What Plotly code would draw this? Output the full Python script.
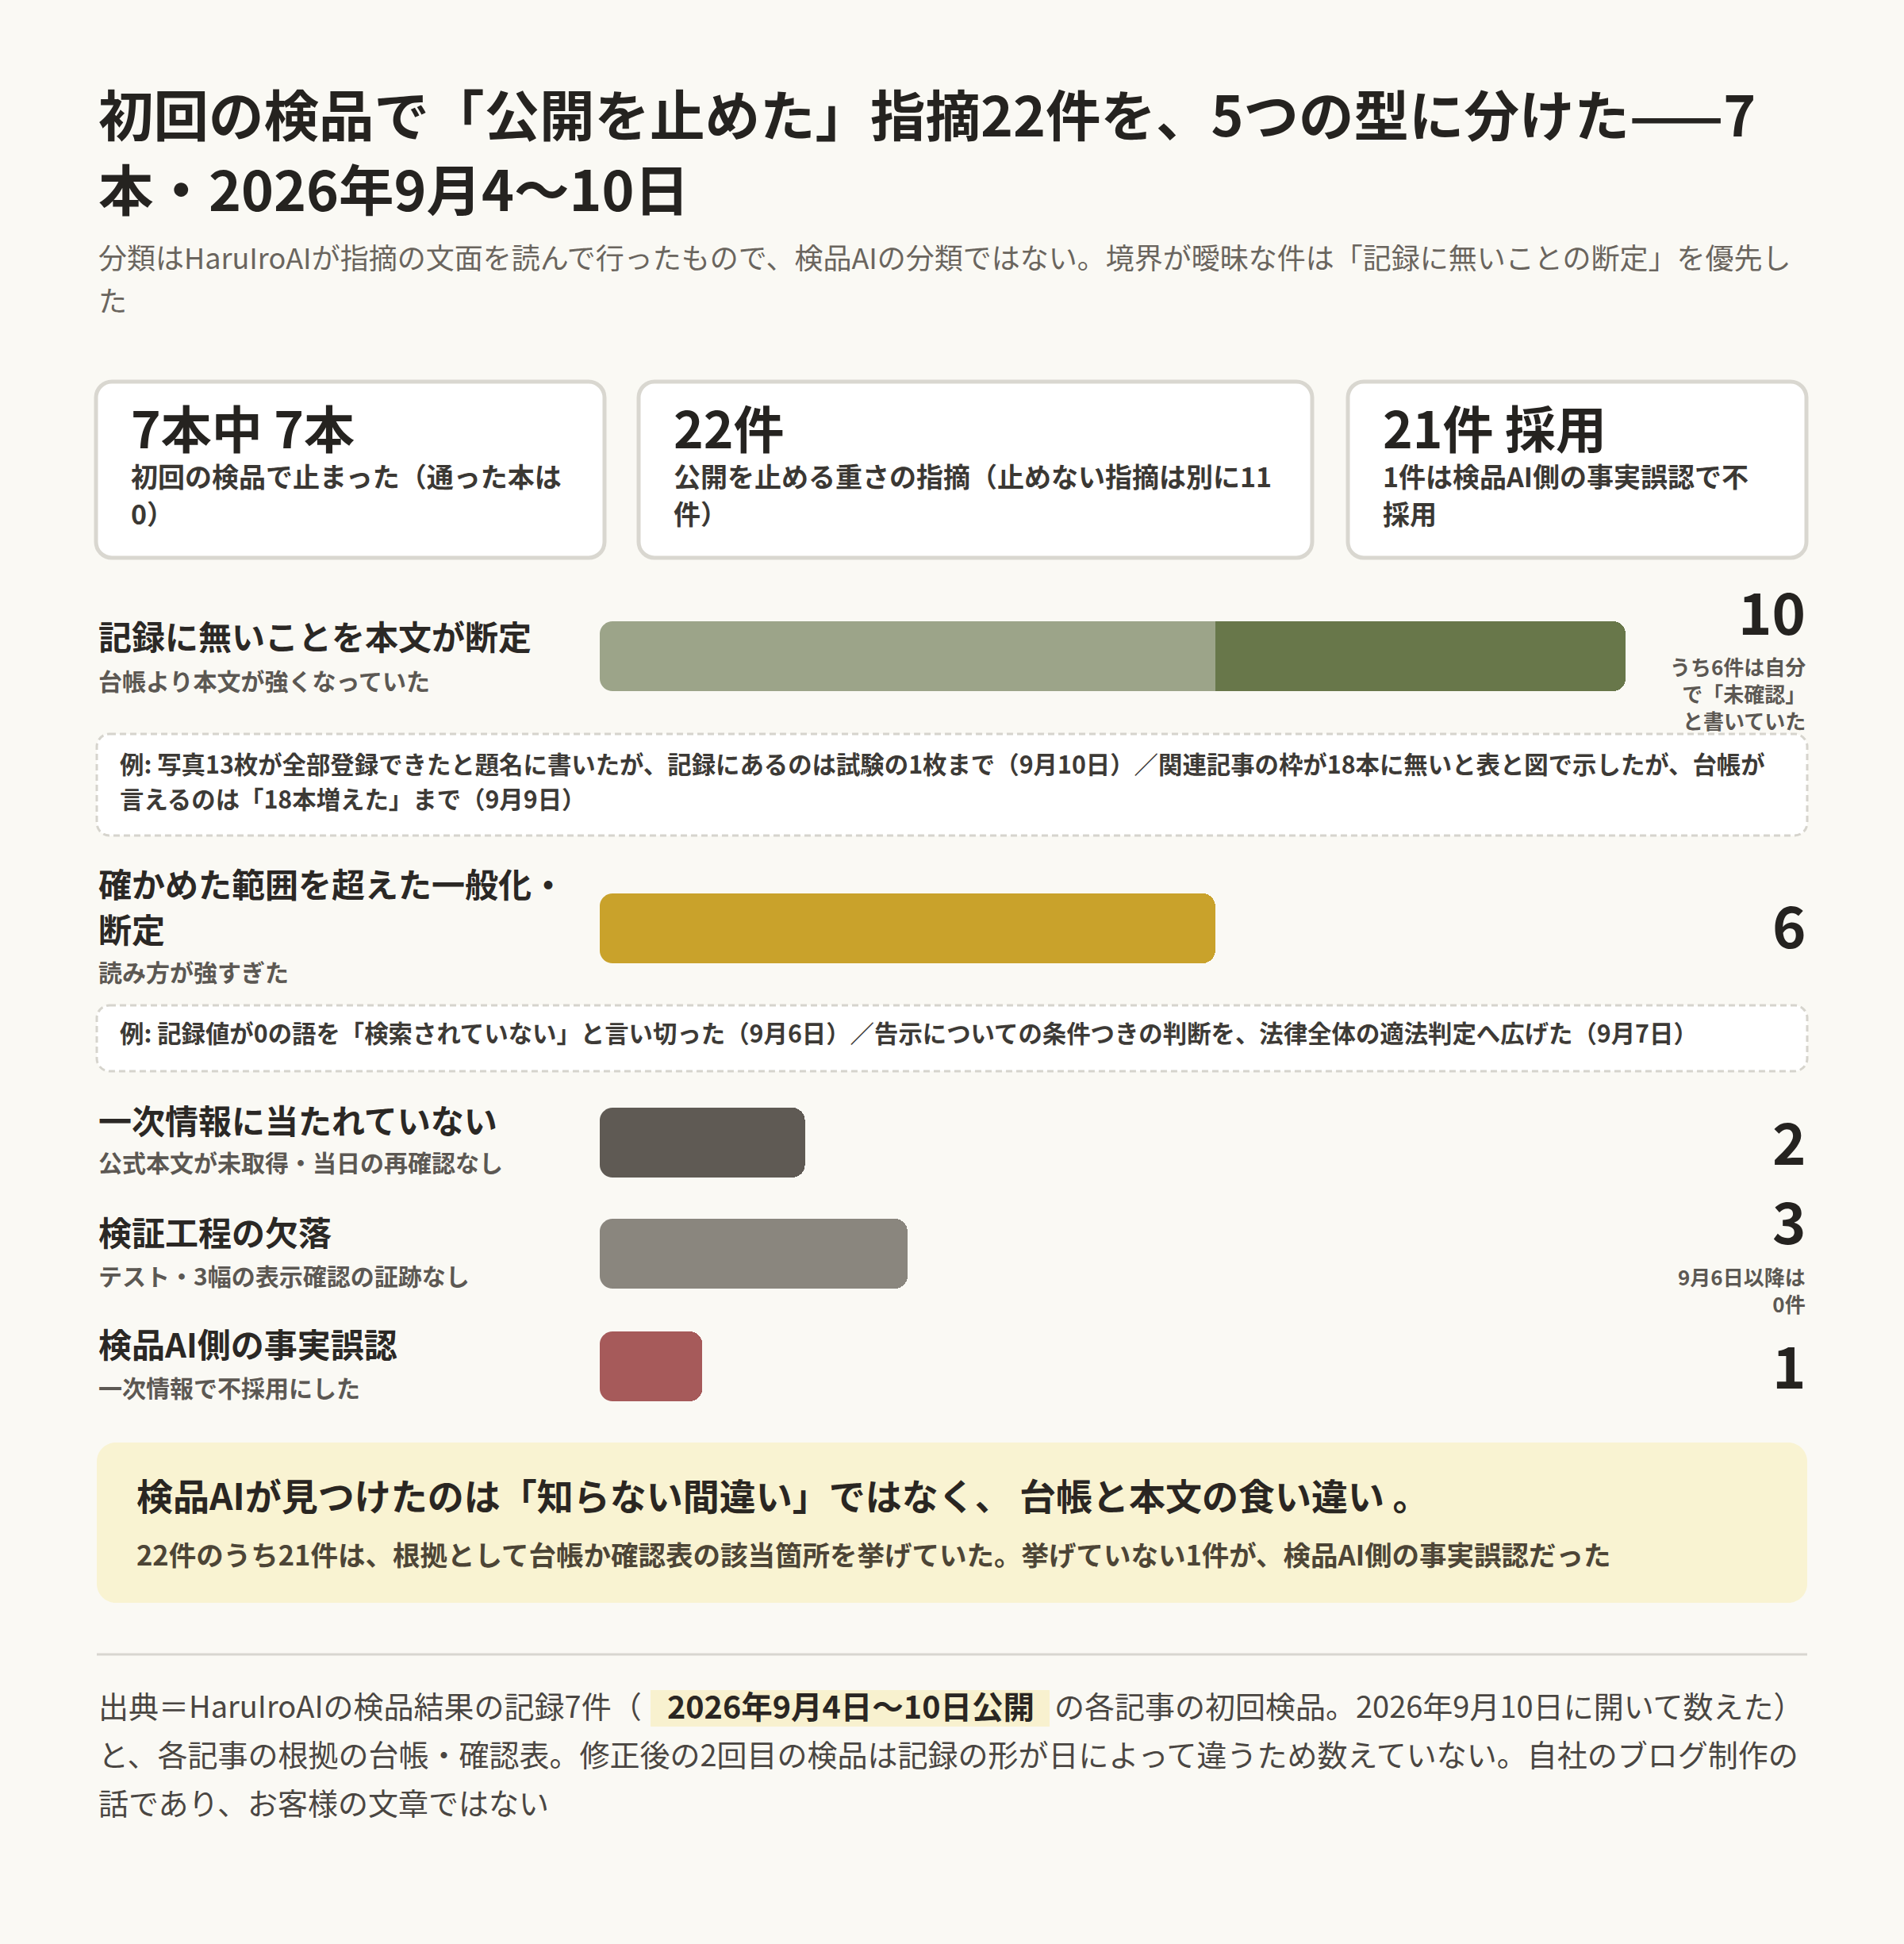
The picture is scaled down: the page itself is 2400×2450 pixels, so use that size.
import plotly.graph_objects as go

# ------------------------------------------------------------------ data
title_lines = [
    "初回の検品で「公開を止めた」指摘22件を、5つの型に分けた——7",
    "本・2026年9月4〜10日",
]
subtitle_lines = [
    "分類はHaruIroAIが指摘の文面を読んで行ったもので、検品AIの分類ではない。境界が曖昧な件は「記録に無いことの断定」を優先し",
    "た",
]

kpi_values = ["7本中 7本", "22件", "21件 採用"]
kpi_notes = [
    ["初回の検品で止まった（通った本は", "0）"],
    ["公開を止める重さの指摘（止めない指摘は別に11", "件）"],
    ["1件は検品AI側の事実誤認で不", "採用"],
]

categories = [
    ["記録に無いことを本文が断定"],
    ["確かめた範囲を超えた一般化・", "断定"],
    ["一次情報に当たれていない"],
    ["検証工程の欠落"],
    ["検品AI側の事実誤認"],
]
descriptions = [
    "台帳より本文が強くなっていた",
    "読み方が強すぎた",
    "公式本文が未取得・当日の再確認なし",
    "テスト・3幅の表示確認の証跡なし",
    "一次情報で不採用にした",
]
counts = [10, 6, 2, 3, 1]
self_marked_unconfirmed = [6, 0, 0, 0, 0]
count_notes = [
    ["うち6件は自分", "で「未確認」", "と書いていた"],
    [],
    [],
    ["9月6日以降は", "0件"],
    [],
]
examples = [
    ["例: 写真13枚が全部登録できたと題名に書いたが、記録にあるのは試験の1枚まで（9月10日）／関連記事の枠が18本に無いと表と図で示したが、台帳が",
     "言えるのは「18本増えた」まで（9月9日）"],
    ["例: 記録値が0の語を「検索されていない」と言い切った（9月6日）／告示についての条件つきの判断を、法律全体の適法判定へ広げた（9月7日）"],
    None, None, None,
]

callout_title = "検品AIが見つけたのは「知らない間違い」ではなく、 台帳と本文の食い違い 。"
callout_text = "22件のうち21件は、根拠として台帳か確認表の該当箇所を挙げていた。挙げていない1件が、検品AI側の事実誤認だった"

footer_pre = "出典＝HaruIroAIの検品結果の記録7件（"
footer_highlight = "2026年9月4日〜10日公開"
footer_post = "の各記事の初回検品。2026年9月10日に開いて数えた）"
footer_lines = [
    "と、各記事の根拠の台帳・確認表。修正後の2回目の検品は記録の形が日によって違うため数えていない。自社のブログ制作の",
    "話であり、お客様の文章ではない",
]

# ------------------------------------------------------------------ style / layout
W, H = 2400, 2450
FONT = "Noto Sans CJK JP"
BG = "#faf9f4"
BAR_COLORS = ["#68774a", "#c9a22b", "#5f5a54", "#8a867e", "#a65a5a"]
SELF_COLOR = "#9ca489"

ROW_Y = [827, 1170, 1440, 1580, 1722]
LABEL_Y = [[805], [1116, 1174], [1414], [1555], [1696]]
DESC_Y = [861, 1228, 1468, 1611, 1752]
VALUE_Y = [772, 1168, 1440, 1540, 1722]
NOTE_Y = [877, None, None, 1629, None]
EXAMPLE_BOX = [(925, 1053, [966, 1010]), (1267, 1350, [1305]), None, None, None]
BAR_X0, BAR_X1 = 756, 2049
BAR_H = 88
RADIUS = 16

CARD_X = [(121, 762), (805, 1654), (1699, 2277)]
CARD_Y = (481, 703)
LEFT, RIGHT = 122, 2278
TEXT_DY = -4  # glyph-centre correction


def px(x):
    return x / W


def py(y):
    return 1 - y / H


def P(x, y):
    return f"{px(x):.6f},{py(y):.6f}"


annotations = []
shapes = []


def text(x, y, s, size, color, weight=400, anchor="left"):
    annotations.append(dict(
        x=px(x), y=py(y + TEXT_DY), xref="paper", yref="paper", text=s, showarrow=False,
        xanchor=anchor, yanchor="middle", align=anchor,
        font=dict(family=FONT, size=size, color=color, weight=weight),
    ))


def rrect(x0, y0, x1, y1, r):
    k = 0.5523 * r
    return (
        f"M {P(x0 + r, y0)} L {P(x1 - r, y0)} "
        f"C {P(x1 - r + k, y0)} {P(x1, y0 + r - k)} {P(x1, y0 + r)} "
        f"L {P(x1, y1 - r)} "
        f"C {P(x1, y1 - r + k)} {P(x1 - r + k, y1)} {P(x1 - r, y1)} "
        f"L {P(x0 + r, y1)} "
        f"C {P(x0 + r - k, y1)} {P(x0, y1 - r + k)} {P(x0, y1 - r)} "
        f"L {P(x0, y0 + r)} "
        f"C {P(x0, y0 + r - k)} {P(x0 + r - k, y0)} {P(x0 + r, y0)} Z"
    )


def add_rrect(x0, y0, x1, y1, r, fill, line_color=None, line_width=0, dash=None):
    shapes.append(dict(
        type="path", xref="paper", yref="paper", path=rrect(x0, y0, x1, y1, r),
        fillcolor=fill, layer="below",
        line=dict(color=line_color or fill, width=line_width, dash=dash or "solid"),
    ))


def left_corner_masks(x, yt, yb, r):
    """Background-coloured masks that round the left (base) end of a bar."""
    k = 0.5523 * r
    e = 1.5
    top = (f"M {P(x - e, yt - e)} L {P(x + r, yt - e)} L {P(x + r, yt)} "
           f"C {P(x + r - k, yt)} {P(x, yt + r - k)} {P(x, yt + r)} "
           f"L {P(x - e, yt + r)} Z")
    bot = (f"M {P(x - e, yb + e)} L {P(x + r, yb + e)} L {P(x + r, yb)} "
           f"C {P(x + r - k, yb)} {P(x, yb - r + k)} {P(x, yb - r)} "
           f"L {P(x - e, yb - r)} Z")
    for pth in (top, bot):
        shapes.append(dict(type="path", xref="paper", yref="paper", path=pth,
                           fillcolor=BG, line=dict(width=0), layer="above"))


# title & subtitle
for line, y in zip(title_lines, [145, 239]):
    text(LEFT, y, line, 69.5, "#252320", 700)
for line, y in zip(subtitle_lines, [327, 381]):
    text(LEFT, y, line, 36, "#6a655e", 400)

# KPI cards
for (x0, x1), val, notes in zip(CARD_X, kpi_values, kpi_notes):
    add_rrect(x0, CARD_Y[0], x1, CARD_Y[1], 20, "#ffffff", "#d9d7d0", 5)
    text(x0 + 42, 541, val, 64, "#252320", 700)
    for line, y in zip(notes, [603, 650]):
        text(x0 + 42, y, line, 34, "#3b3834", 700)

# rows: labels, descriptions, values, notes, examples
for i in range(len(categories)):
    for line, y in zip(categories[i], LABEL_Y[i]):
        text(LEFT, y, line, 42, "#2b2825", 700)
    text(LEFT, DESC_Y[i], descriptions[i], 30, "#5c5853", 700)
    text(RIGHT, VALUE_Y[i], str(counts[i]), 72, "#252320", 700, "right")
    if count_notes[i]:
        text(RIGHT, NOTE_Y[i], "<br>".join(count_notes[i]), 26, "#5c5853", 700, "right")
    if examples[i]:
        y0, y1, ys = EXAMPLE_BOX[i]
        add_rrect(LEFT, y0, RIGHT, y1, 16, "#ffffff", "#d6d4cd", 3, "8px,5px")
        for line, y in zip(examples[i], ys):
            text(149, y, line, 30.4, "#3d3a36", 700)
    left_corner_masks(BAR_X0, ROW_Y[i] - BAR_H / 2, ROW_Y[i] + BAR_H / 2, RADIUS)

# callout
add_rrect(LEFT, 1818, RIGHT, 2020, 24, "#f9f3d2")
text(170, 1887, callout_title, 46, "#2a2622", 700)
text(170, 1962, callout_text, 34.5, "#4d4536", 700)

# divider
shapes.append(dict(type="line", xref="paper", yref="paper",
                   x0=px(LEFT), x1=px(RIGHT), y0=py(2085), y1=py(2085),
                   line=dict(color="#d8d6d0", width=3)))

# footer
shapes.append(dict(type="rect", xref="paper", yref="paper",
                   x0=px(820), x1=px(1323), y0=py(2130), y1=py(2176),
                   fillcolor="#f8f1cf", line=dict(width=0), layer="below"))
text(LEFT, 2152, footer_pre, 38, "#4a4642", 400)
text(1072, 2152, footer_highlight, 39.5, "#2a2622", 700, "center")
text(1327, 2152, footer_post, 38, "#4a4642", 400)
for line, y in zip(footer_lines, [2213, 2274]):
    text(LEFT, y, line, 38, "#4a4642", 400)

# ------------------------------------------------------------------ bars
other_counts = [c - s for c, s in zip(counts, self_marked_unconfirmed)]

fig = go.Figure()
fig.add_trace(go.Bar(
    orientation="h", x=self_marked_unconfirmed, y=ROW_Y, width=BAR_H,
    marker=dict(color=SELF_COLOR, line=dict(width=0)),
    hoverinfo="skip", showlegend=False,
))
fig.add_trace(go.Bar(
    orientation="h", x=other_counts, y=ROW_Y, width=BAR_H,
    marker=dict(color=BAR_COLORS, line=dict(width=0)),
    hoverinfo="skip", showlegend=False,
))

fig.update_layout(
    width=W, height=H, autosize=False,
    margin=dict(l=0, r=0, t=0, b=0, pad=0),
    paper_bgcolor=BG, plot_bgcolor="rgba(0,0,0,0)",
    barmode="stack", barcornerradius=RADIUS,
    xaxis=dict(range=[0, max(counts)], domain=[px(BAR_X0), px(BAR_X1)],
               visible=False, fixedrange=True),
    yaxis=dict(range=[H, 0], domain=[0, 1], visible=False, fixedrange=True),
    annotations=annotations,
    shapes=shapes,
    font=dict(family=FONT),
)

fig.write_html(
    "out.html",
    config={"displayModeBar": False, "staticPlot": True},
    post_script="document.body.style.margin='0';document.body.style.padding='0';document.body.style.background='%s';" % BG,
)
